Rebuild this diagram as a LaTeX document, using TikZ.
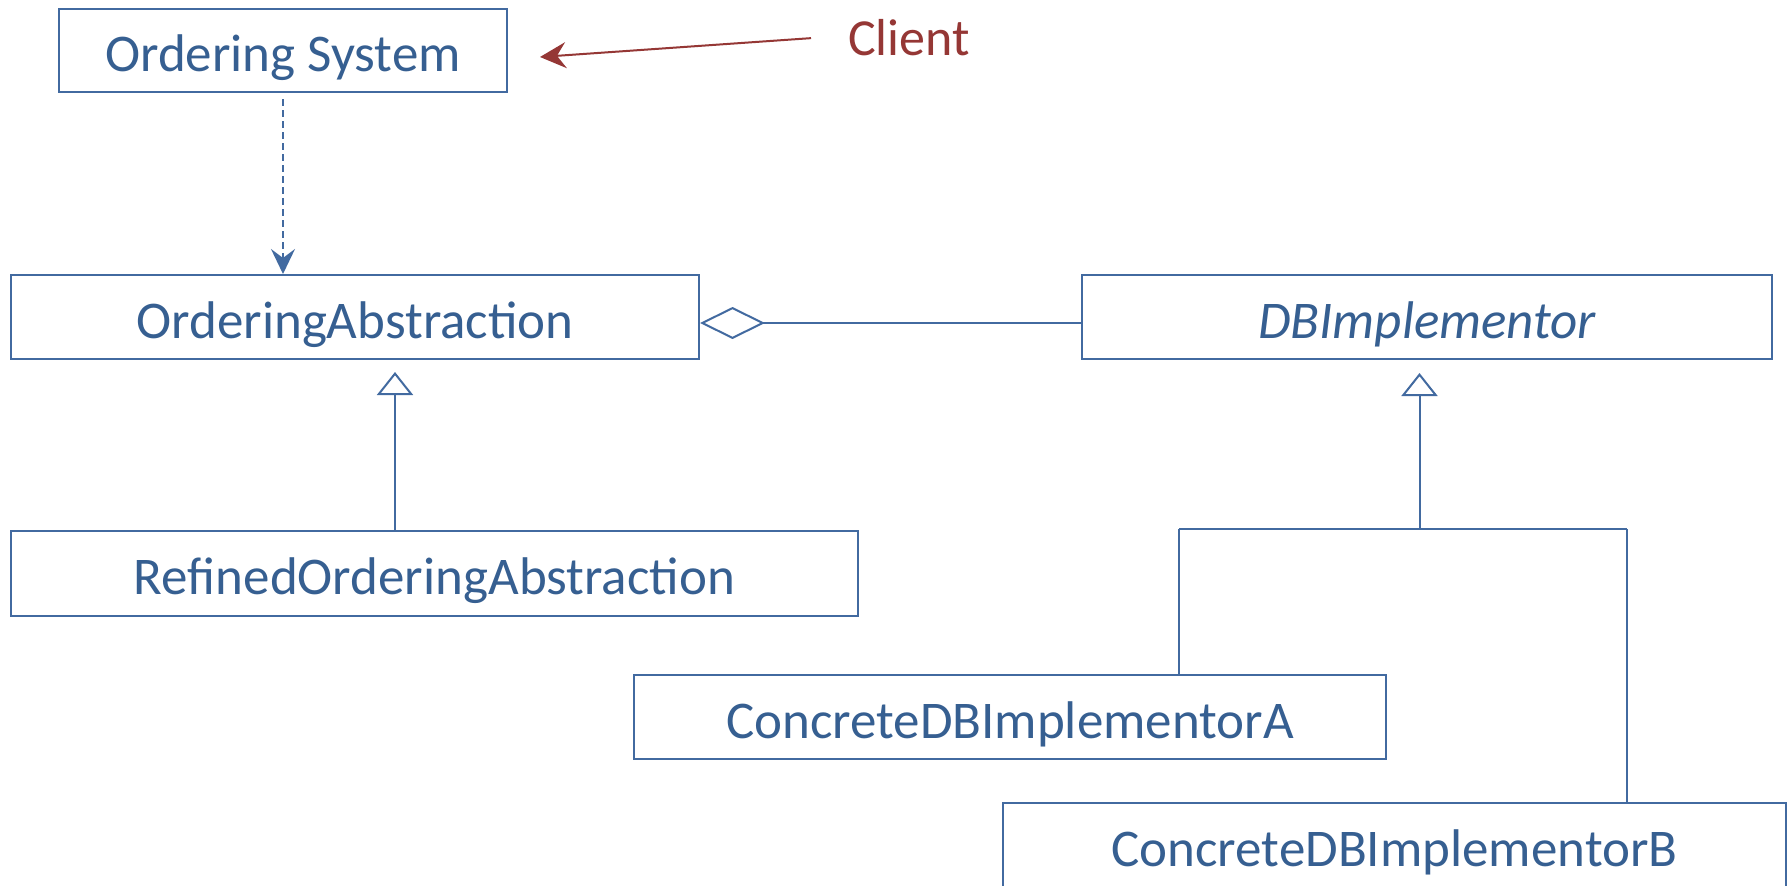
\documentclass[tikz,border=0pt]{standalone}
\usepackage{fontspec}
\setmainfont{Carlito}
\usetikzlibrary{arrows.meta}
\definecolor{umlline}{RGB}{66,106,160}
\definecolor{umltext}{RGB}{54,95,145}
\definecolor{clientred}{RGB}{149,55,53}
\tikzset{
  classbox/.style={draw=umlline, line width=2pt, rectangle, inner sep=0pt,
    text=umltext, font=\fontsize{53}{60}\selectfont,
    text height=42pt, text depth=0pt},
  assoc/.style={draw=umlline, line width=2pt},
  inherit/.style={assoc, -{Triangle[open, length=23pt, width=36pt, line width=2pt]}},
  aggreg/.style={assoc, {Diamond[open, length=65pt, width=32pt, line width=2pt]}-},
  depend/.style={draw=umlline, line width=1.6pt, dash pattern=on 7pt off 4pt,
    -{Stealth[length=25pt, width=24pt, inset=9pt]}},
  note/.style={text=clientred, font=\fontsize{52}{60}\selectfont, inner sep=0pt},
  notearrow/.style={draw=clientred, line width=2pt,
    -{Stealth[length=26pt, width=26pt, inset=9pt]}}
}
\begin{document}
\begin{tikzpicture}[x=1pt, y=-1pt]
\clip (0,0) rectangle (1791,886);
\fill[white] (0,0) rectangle (1791,886);

% classes
\node[classbox, minimum width=448pt, minimum height=83pt] (os) at (283,50.5) {Ordering System};
\node[classbox, minimum width=688pt, minimum height=84pt] (oa) at (355,317) {OrderingAbstraction};
\node[classbox, minimum width=690pt, minimum height=84pt] (dbi) at (1427,317) {\itshape DBImplementor};
\node[classbox, minimum width=847pt, minimum height=85pt] (roa) at (434.5,573.5) {RefinedOrderingAbstraction};
\node[classbox, minimum width=752pt, minimum height=84pt] (ca) at (1010,717) {ConcreteDBImplementorA};
\node[classbox, minimum width=783pt, minimum height=85pt] (cb) at (1394.5,845.5) {ConcreteDBImplementorB};

% annotation
\node[note, anchor=base west] (client) at (848,55) {Client};
\draw[notearrow] ([xshift=-37pt, yshift=-1pt]client.west) -- ([xshift=32pt, yshift=-6.5pt]os.east);

% dependency
\draw[depend, shorten <=6pt] (os.south) -- (os.south |- oa.north);

% aggregation
\draw[aggreg] ([yshift=-6pt]oa.east) -- ([yshift=-6pt]dbi.west);

% generalization of the abstraction
\coordinate (roaup) at (395,531);
\draw[inherit, shorten >=12pt] (roaup) -- (roaup |- oa.south);

% generalization of the implementors
\coordinate (fork) at (1419.5,529);
\coordinate (forkL) at (1179,529);
\coordinate (forkR) at (1627,529);
\draw[inherit, shorten >=13pt] (fork) -- (fork |- dbi.south);
\draw[assoc] (forkL) -- (forkR);
\draw[assoc] (forkL) -- (forkL |- ca.north);
\draw[assoc] (forkR) -- (forkR |- cb.north);
\end{tikzpicture}
\end{document}
